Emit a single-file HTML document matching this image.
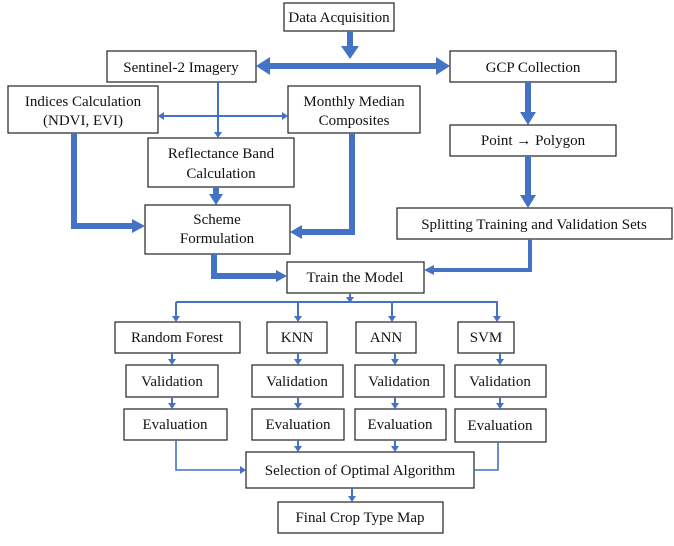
<!DOCTYPE html><html><head><style>body{margin:0;background:#fff}svg text{font-family:"Liberation Serif",serif;font-size:15px;fill:#111}</style></head><body>
<svg width="674" height="541" xmlns="http://www.w3.org/2000/svg">
<g fill="#fff" stroke="#222" stroke-width="1.2">
<rect x="284" y="3" width="110" height="28"/>
<rect x="107" y="51" width="149" height="31"/>
<rect x="450" y="51" width="166" height="31"/>
<rect x="8" y="86" width="150" height="47"/>
<rect x="288" y="86" width="132" height="47"/>
<rect x="450" y="125" width="166" height="31"/>
<rect x="148" y="138" width="146" height="49"/>
<rect x="145" y="205" width="145" height="49"/>
<rect x="397" y="208" width="275" height="31"/>
<rect x="287" y="262" width="137" height="31"/>
<rect x="115" y="322" width="125" height="31"/>
<rect x="267" y="322" width="60" height="31"/>
<rect x="356" y="322" width="60" height="31"/>
<rect x="458" y="322" width="56" height="31"/>
<rect x="126" y="365" width="92" height="32"/>
<rect x="252" y="365" width="91" height="32"/>
<rect x="355" y="365" width="89" height="32"/>
<rect x="455" y="365" width="91" height="32"/>
<rect x="124" y="409" width="103" height="31"/>
<rect x="252" y="409" width="92" height="31"/>
<rect x="355" y="409" width="91" height="31"/>
<rect x="455" y="409" width="91" height="33"/>
<rect x="246" y="452" width="228" height="36"/>
<rect x="278" y="502" width="165" height="31"/>
</g>
<g fill="none" stroke="#4472C4">
<g stroke-width="6">
<path d="M350 31V47"/>
<path d="M268 66H438"/>
<path d="M74 133V226H133"/>
<path d="M352 133V232H301"/>
<path d="M216 187V195"/>
<path d="M528 82V113"/>
<path d="M528 156V196"/>
<path d="M214 254V276H277"/>
</g>
<path stroke-width="4" d="M530 239V270H434"/>
<g stroke-width="2">
<path d="M218 82V133"/>
<path d="M163 116H283"/>
<path d="M350 293V302M176 302H498M176 302V317M298 302V317M392 302V317M497 302V317"/>
<path d="M172 353V360M298 353V360M395 353V360M500 353V360"/>
<path d="M172 397V404M298 397V404M395 397V404M500 397V404"/>
<path d="M298 440V447M395 440V447M352 488V497"/>
</g>
<g stroke-width="1.6"><path d="M176 440V470H241"/><path d="M498 442V470H474"/></g>
</g>
<g fill="#4472C4">
<polygon points="341,46 359,46 350,59"/>
<polygon points="256,66 270,57 270,75"/>
<polygon points="450,66 436,57 436,75"/>
<polygon points="132,219 132,233 145,226"/>
<polygon points="302,225 302,239 290,232"/>
<polygon points="209,194 223,194 216,205"/>
<polygon points="520,112 536,112 528,125"/>
<polygon points="520,195 536,195 528,208"/>
<polygon points="276,270 276,282 287,276"/>
<polygon points="434,265 434,275 424,270"/>
<polygon points="214,132 222,132 218,138"/>
<polygon points="158,116 164,112 164,120"/>
<polygon points="288,116 282,112 282,120"/>
<polygon points="346,297 354,297 350,303"/>
<polygon points="172,316 180,316 176,322"/><polygon points="294,316 302,316 298,322"/><polygon points="388,316 396,316 392,322"/><polygon points="493,316 501,316 497,322"/>
<polygon points="168,359 176,359 172,365"/><polygon points="294,359 302,359 298,365"/><polygon points="391,359 399,359 395,365"/><polygon points="496,359 504,359 500,365"/>
<polygon points="168,403 176,403 172,409"/><polygon points="294,403 302,403 298,409"/><polygon points="391,403 399,403 395,409"/><polygon points="496,403 504,403 500,409"/>
<polygon points="294,446 302,446 298,452"/><polygon points="391,446 399,446 395,452"/><polygon points="348,496 356,496 352,502"/>
<polygon points="240,466 240,474 246,470"/>
</g>
<g text-anchor="middle">
<text x="339" y="22">Data Acquisition</text>
<text x="181" y="72">Sentinel-2 Imagery</text>
<text x="533" y="72">GCP Collection</text>
<text x="83" y="106">Indices Calculation</text>
<text x="83" y="125">(NDVI, EVI)</text>
<text x="354" y="106">Monthly Median</text>
<text x="354" y="125">Composites</text>
<text x="533" y="145">Point → Polygon</text>
<text x="221" y="158">Reflectance Band</text>
<text x="221" y="178">Calculation</text>
<text x="217" y="224">Scheme</text>
<text x="217" y="243">Formulation</text>
<text x="534" y="229">Splitting Training and Validation Sets</text>
<text x="355" y="282">Train the Model</text>
<text x="177" y="342">Random Forest</text>
<text x="297" y="342">KNN</text>
<text x="386" y="342">ANN</text>
<text x="486" y="342">SVM</text>
<text x="172" y="386">Validation</text>
<text x="297" y="386">Validation</text>
<text x="399" y="386">Validation</text>
<text x="500" y="386">Validation</text>
<text x="175" y="429">Evaluation</text>
<text x="298" y="429">Evaluation</text>
<text x="400" y="429">Evaluation</text>
<text x="500" y="430">Evaluation</text>
<text x="360" y="475">Selection of Optimal Algorithm</text>
<text x="360" y="522">Final Crop Type Map</text>
</g>
</svg></body></html>
